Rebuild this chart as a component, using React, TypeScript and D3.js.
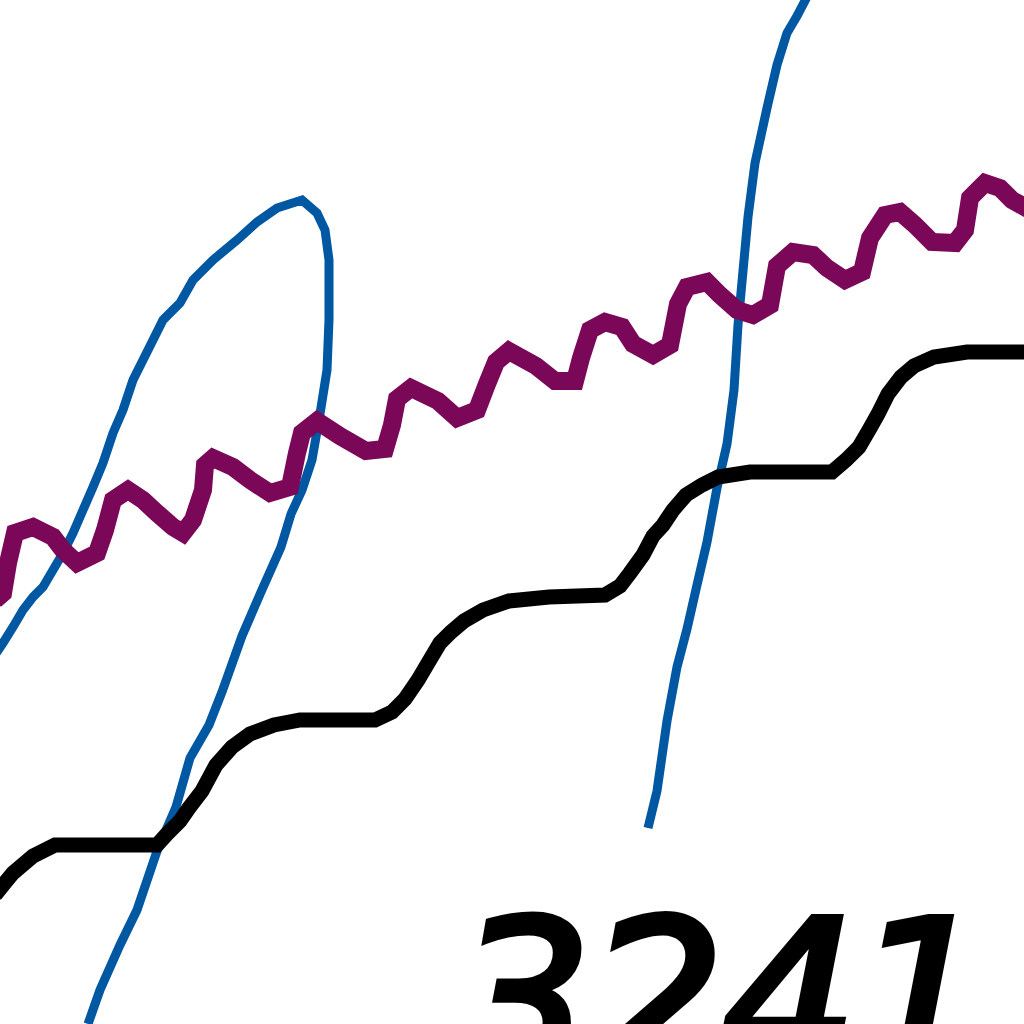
import React, { useRef, useEffect } from 'react';
import * as d3 from 'd3';

type Pt = [number, number];

// x / y in chart units (one unit = one coarse pixel of the source)
const blueLoop: Pt[] = [
  [8.8, 0], [10, 3.4], [12, 7.9], [13.7, 11.4], [15.7, 17.3], [17.6, 21.7],
  [19, 26.6], [20.9, 29.9], [22.2, 33.2], [24.2, 38.8], [26.1, 43.2], [28.1, 47.7],
  [29.1, 51], [30.2, 53.4], [31.2, 56.4], [32, 61], [32.7, 65.4], [32.9, 70.4],
  [32.9, 76.4], [32.5, 79.4], [31.7, 81.1], [30.2, 82.4], [27.7, 81.6], [25.7, 80.2],
  [23.7, 78.4], [21.3, 76.4], [19.3, 74.4], [18, 72.1], [16.3, 70.4], [15.3, 68.4],
  [14.3, 66.4], [13.3, 64.4], [12.3, 61.4], [11.3, 59.1], [10.3, 56.1], [9.3, 53.7],
  [8.3, 51.4], [7.3, 49.1], [6.3, 47.1], [5.3, 45.4], [4.3, 43.7], [3.3, 42.7],
  [2.3, 41.4], [1.3, 39.7], [0.3, 38.1], [-0.5, 36.9],
];

const blueRise: Pt[] = [
  [64.8, 19.6], [65.7, 23.3], [66.7, 30.3], [67.7, 35.7], [68.7, 39.5], [69.7, 43.9],
  [70.7, 48.2], [71.7, 53.6], [72.7, 58], [73.4, 63.4], [73.8, 69.9], [74.3, 75.3],
  [74.8, 80.7], [75.5, 86.1], [76.7, 91.6], [77.7, 95.9], [78.7, 99.1], [79.7, 100.8],
  [80.8, 102.9],
];

const purpleWave: Pt[] = [
  [-0.5, 42.4], [0.3, 43.1], [0.8, 46.1], [1.5, 49.1], [3.3, 49.7], [5.3, 48.7],
  [6.3, 47.4], [7.7, 46.1], [9.7, 47.1], [10.5, 49.4], [11.3, 52.4], [12.8, 53.4],
  [14.3, 52.4], [15.7, 51.1], [17.3, 49.7], [18.3, 49.1], [19.3, 50.4], [20.3, 53.4],
  [20.5, 55.9], [21.3, 56.6], [23.3, 55.7], [25, 54.4], [27, 53.1], [29, 53.7],
  [29.7, 57.1], [30.2, 59.1], [31.7, 60.3], [34, 58.8], [36.6, 57.3], [38.5, 57.5],
  [39.2, 59.9], [39.7, 62.5], [41.1, 63.6], [43.8, 62.3], [45.7, 60.6], [47.7, 61.4],
  [48.7, 64], [49.6, 66.2], [50.9, 67.3], [53.6, 65.8], [55.5, 64.3], [57.5, 64.3],
  [58.1, 66.6], [59, 69.4], [60.5, 70.2], [62.2, 69.7], [63.3, 68], [65.3, 66.9],
  [67, 67.9], [67.8, 72], [68.7, 73.7], [70.7, 74.2], [72, 72.9], [73.7, 71.4],
  [75.3, 70.9], [77, 71.9], [77.7, 75.8], [79.3, 77.2], [81.3, 76.9], [82.7, 75.6],
  [84.5, 74.4], [86.2, 75.2], [87, 78.6], [88.5, 80.9], [90, 81.2], [91.5, 79.9],
  [93.2, 78.2], [95.5, 78.1], [96.5, 79.4], [97, 82.6], [98.5, 84.1], [100, 83.6],
  [101.2, 82.4], [103, 81.4],
];

const blackSteps: Pt[] = [
  [-0.5, 12.9], [0.3, 13.9], [1.3, 15.1], [3.3, 16.8], [5.5, 17.9], [15.7, 17.9],
  [16.7, 19], [18, 20.3], [18.9, 21.6], [20.2, 23.3], [21.6, 25.9], [23.2, 27.7],
  [25, 29], [27.4, 29.9], [30, 30.4], [37.5, 30.4], [39.2, 31.2], [40.5, 32.5],
  [41.8, 34.4], [43.1, 36.6], [44, 38.1], [45.1, 39.2], [46.4, 40.3], [48.3, 41.4],
  [50.9, 42.3], [54.9, 42.7], [60.5, 42.9], [62, 43.8], [63, 45.1], [64.3, 46.9],
  [65.3, 48.8], [66.3, 49.9], [67.3, 51.4], [68.6, 52.9], [70.2, 53.9], [71.8, 54.7],
  [75, 55.2], [83.2, 55.2], [84.6, 56.4], [85.9, 57.7], [86.9, 59.4], [87.8, 61],
  [88.8, 63], [90.1, 64.7], [91.4, 65.8], [93.4, 66.7], [96.7, 67.2], [103, 67.2],
];

const tickLabel = '3241';

const SIZE = 1024;

export default function App() {
  const svgRef = useRef<SVGSVGElement>(null);

  useEffect(() => {
    if (!svgRef.current) return;
    const svg = d3.select(svgRef.current);
    svg.selectAll('*').remove();

    const x = d3.scaleLinear().domain([0, 102.4]).range([0, SIZE]);
    const y = d3.scaleLinear().domain([0, 102.4]).range([SIZE, 0]);

    const line = d3.line<Pt>()
      .x(d => x(d[0]))
      .y(d => y(d[1]));

    const series = [
      { data: blueLoop, color: '#0057a2', width: 9 },
      { data: blueRise, color: '#0057a2', width: 9 },
      { data: purpleWave, color: '#7b0759', width: 18 },
      { data: blackSteps, color: '#000000', width: 15 },
    ];

    svg.selectAll('path.series')
      .data(series)
      .enter()
      .append('path')
      .attr('class', 'series')
      .attr('d', d => line(d.data))
      .attr('fill', 'none')
      .attr('stroke', d => d.color)
      .attr('stroke-width', d => d.width)
      .attr('stroke-linejoin', 'miter')
      .attr('stroke-linecap', 'butt');

    // tick label, cut by the bottom edge as in the source
    svg.append('text')
      .attr('x', 455)
      .attr('y', 1075)
      .attr('font-family', 'DejaVu Sans')
      .attr('font-style', 'italic')
      .attr('font-size', 215)
      .attr('letter-spacing', -4)
      .attr('fill', '#000')
      .attr('stroke', '#000')
      .attr('stroke-width', 7)
      .text(tickLabel);
  }, []);

  return (
    <div style={{ position: 'absolute', left: 0, top: 0, width: SIZE, height: SIZE, background: '#fff' }}>
      <svg ref={svgRef} width={SIZE} height={SIZE} style={{ display: 'block' }} />
    </div>
  );
}
